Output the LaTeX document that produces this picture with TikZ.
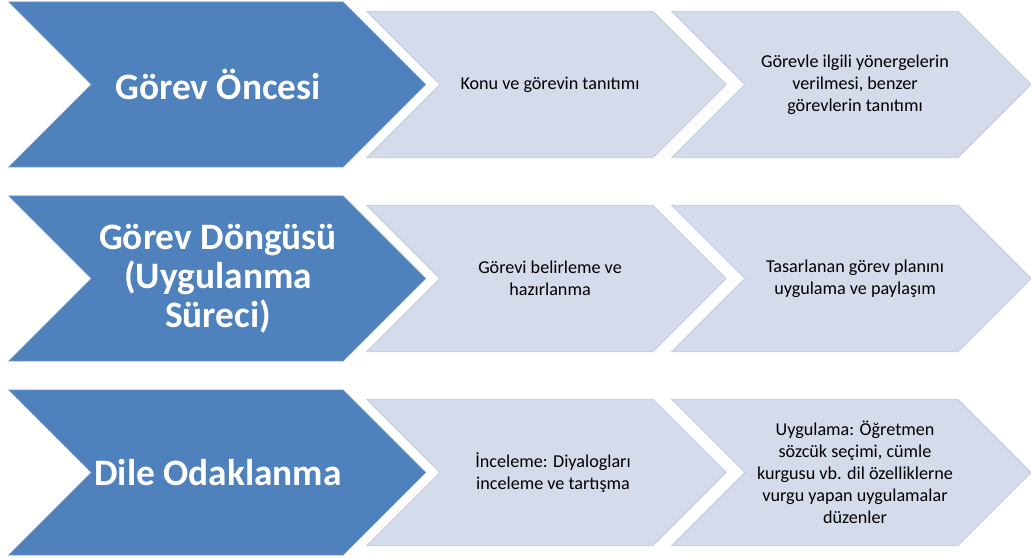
\documentclass[tikz,border=0pt]{standalone}
\usepackage{fontspec}
\setmainfont{Carlito}

\definecolor{phaseblue}{RGB}{79,129,189}
\definecolor{phaseedge}{RGB}{100,148,204}
\definecolor{stepfill}{RGB}{212,219,234}
\definecolor{stepedge}{RGB}{202,210,228}

\tikzset{
    phasetext/.style={text=white,align=center,font=\fontsize{28}{29.3}\selectfont\bfseries},
    steptext/.style={text=black,align=center,font=\fontsize{13.6}{16.5}\selectfont}
}

\begin{document}
\begin{tikzpicture}[x=0.75pt,y=-0.75pt]

\useasboundingbox (0,0) rectangle (1031,559);

% Draw the chevrons of each row (centre, left x of the light ones)
\foreach \c in {84.5,278.5,472.5} {
    \filldraw[draw=phaseedge,fill=phaseblue,line width=.6pt]
        (9,\c-82.5) -- (343,\c-82.5) -- (425.5,\c) -- (343,\c+82.5) -- (9,\c+82.5) -- (91.5,\c) -- cycle;
    \foreach \l in {367,672} {
        \filldraw[draw=stepedge,fill=stepfill,line width=1pt]
            (\l,\c-73) -- (\l+286,\c-73) -- (\l+359,\c) -- (\l+286,\c+73) -- (\l,\c+73) -- (\l+73,\c) -- cycle;
    }
}

% Draw the texts of the first row
\node[phasetext] (oncesi) at (218,84.5) {Görev Öncesi};
\node[steptext] (konu) at (550,84.5) {Konu ve görevin tanıtımı};
\node[steptext] (yonerge) at (855,84.5) {Görevle ilgili yönergelerin\\verilmesi, benzer\\görevlerin tanıtımı};

% Draw the texts of the second row
\node[phasetext] (dongu) at (218,278.5) {Görev Döngüsü\\(Uygulanma\\Süreci)};
\node[steptext] (belirle) at (550,278.5) {Görevi belirleme ve\\hazırlanma};
\node[steptext] (tasarla) at (855,278.5) {Tasarlanan görev planını\\uygulama ve paylaşım};

% Draw the texts of the third row
\node[phasetext] (odak) at (218,472.5) {Dile Odaklanma};
\node[steptext] (incele) at (553,472.5) {İnceleme: Diyalogları\\inceleme ve tartışma};
\node[steptext] (uygula) at (855,472.5) {Uygulama: Öğretmen\\sözcük seçimi, cümle\\kurgusu vb. dil özelliklerne\\vurgu yapan uygulamalar\\düzenler};

\end{tikzpicture}
\end{document}
